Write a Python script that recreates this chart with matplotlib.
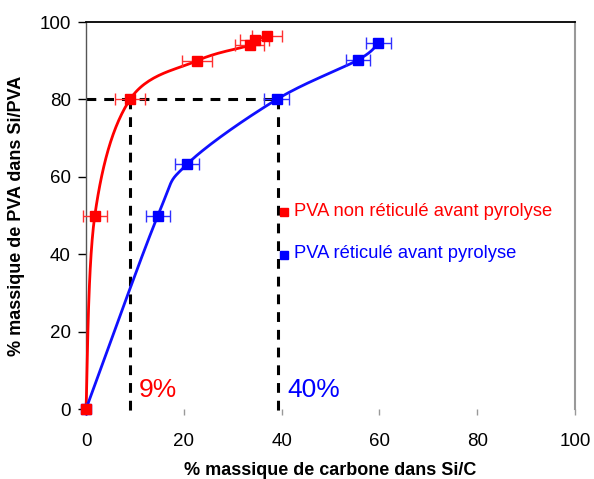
import numpy as np
import matplotlib
matplotlib.use("Agg")
import matplotlib.pyplot as plt

plt.rcParams['font.family'] = ['Liberation Sans', 'DejaVu Sans']

# Red series: PVA non réticulé avant pyrolyse
red_x = [0, 1.8, 9.0, 22.7, 33.5, 34.5, 37.0]
red_y = [0, 50, 80, 90, 94, 95.3, 96.3]
red_err = [0, 2.5, 3.0, 3.0, 3.0, 3.0, 3.0]

# Blue series: PVA réticulé avant pyrolyse
blue_x = [0, 14.7, 20.7, 39.0, 55.6, 59.8]
blue_y = [0, 50, 63.3, 80, 90.2, 94.6]
blue_err = [0, 2.5, 2.5, 2.5, 2.5, 2.5]

x_ticks = [0, 20, 40, 60, 80, 100]
y_ticks = [0, 20, 40, 60, 80, 100]
labels = ["PVA non réticulé avant pyrolyse", "PVA réticulé avant pyrolyse"]
marks = [(9, "9%"), (39.3, "40%")]


def smooth(xs, ys, n=30):
    """Catmull-Rom curve through the given points (like a smoothed line)."""
    pts = np.column_stack([xs, ys]).astype(float)
    p = np.vstack([pts[0], pts, pts[-1]])
    out = []
    for i in range(1, len(p) - 2):
        p0, p1, p2, p3 = p[i - 1], p[i], p[i + 1], p[i + 2]
        t = np.linspace(0, 1, n)[:, None]
        c1 = p1 + (p2 - p0) / 6.0
        c2 = p2 - (p3 - p1) / 6.0
        seg = ((1 - t) ** 3) * p1 + 3 * ((1 - t) ** 2) * t * c1 + 3 * (1 - t) * t ** 2 * c2 + t ** 3 * p2
        out.append(seg)
    out = np.vstack(out)
    return out[:, 0], out[:, 1]


fig = plt.figure(figsize=(5.94, 4.79), dpi=100)
ax = fig.add_axes([0.1448, 0.1461, 0.8232, 0.8079])
ax.set_xlim(0, 100)
ax.set_ylim(0, 100)

# Guide lines at 80 %
ax.plot([0, marks[1][0]], [80, 80], color='black', lw=2.2, ls=(0, (3.2, 2.6)), zorder=2, clip_on=False)
for xv, _ in marks:
    ax.plot([xv, xv], [80, -1.5], color='black', lw=2.2, ls=(0, (3.2, 2.6)), zorder=2, clip_on=False)

rx, ry = smooth(red_x, red_y)
bx, by = smooth(blue_x, blue_y)
ax.plot(rx, ry, color='#ff0000', lw=2, zorder=3, clip_on=False)
ax.plot(bx, by, color='#1010ff', lw=2, zorder=3, clip_on=False)

ax.errorbar(red_x, red_y, xerr=red_err, fmt='none', ecolor='#ff3030', elinewidth=1,
            capsize=4, capthick=1, zorder=4, clip_on=False)
ax.errorbar(blue_x, blue_y, xerr=blue_err, fmt='none', ecolor='#3030ff', elinewidth=1,
            capsize=4, capthick=1, zorder=4, clip_on=False)
ax.plot(blue_x, blue_y, 's', color='#0000ff', ms=7, zorder=5, clip_on=False)
ax.plot(red_x, red_y, 's', color='#ff0000', ms=7, zorder=6, clip_on=False)

# Legend-like labels inside the plot
ax.plot([40.4], [51], 's', color='#ff0000', ms=5.5, zorder=5)
ax.text(42.5, 51, labels[0], color='#ff0000', fontsize=13.2, va='center', ha='left')
ax.plot([40.4], [39.8], 's', color='#0000ff', ms=5.5, zorder=5)
ax.text(42.5, 40.2, labels[1], color='#0000ff', fontsize=13.2, va='center', ha='left')

ax.text(10.8, 5, marks[0][1], color='#ff0000', fontsize=19, va='center', ha='left')
ax.text(41.2, 5, marks[1][1], color='#0000ff', fontsize=19, va='center', ha='left')

ax.set_xticks(x_ticks)
ax.set_yticks(y_ticks)
ax.tick_params(axis='y', direction='out', length=6, width=1, color='black', labelsize=13.5, pad=5)
ax.tick_params(axis='x', direction='out', length=4, width=1, color='#999999', labelsize=13.5, pad=13)

ax.spines['bottom'].set_visible(False)
ax.spines['top'].set_color('black')
ax.spines['top'].set_linewidth(1.3)
ax.spines['left'].set_color('#555555')
ax.spines['left'].set_linewidth(1)
ax.spines['right'].set_color('#999999')
ax.spines['right'].set_linewidth(1.5)

ax.set_xlabel("% massique de carbone dans Si/C", fontsize=13, fontweight='bold', labelpad=9)
ax.set_ylabel("% massique de PVA dans Si/PVA", fontsize=13, fontweight='bold', labelpad=10)

fig.savefig("out.png", dpi=100)
